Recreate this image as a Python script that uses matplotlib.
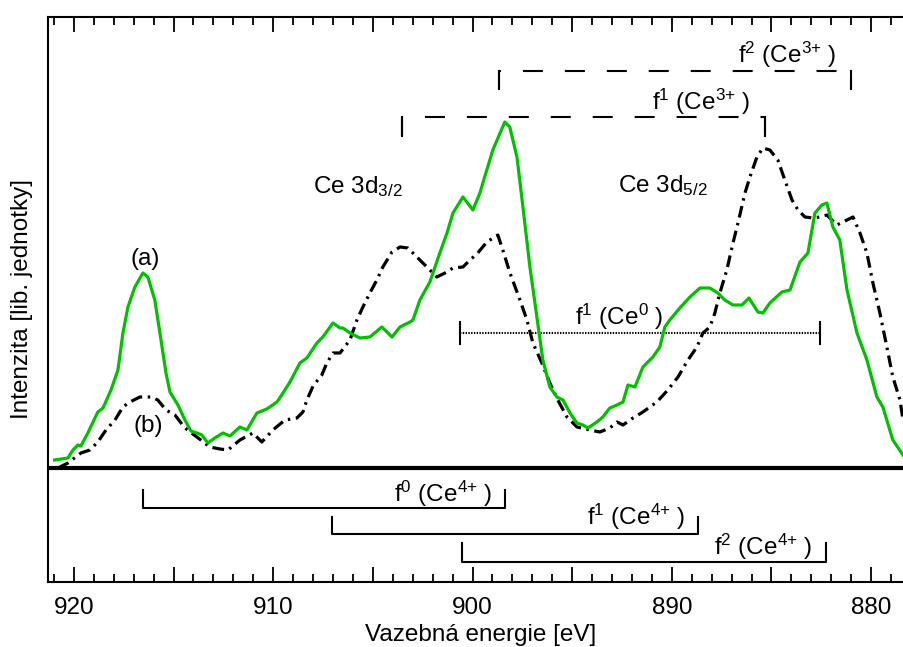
import numpy as np
import matplotlib
matplotlib.use('Agg')
import matplotlib.pyplot as plt
from matplotlib.ticker import MultipleLocator, FuncFormatter

plt.rcParams['font.family'] = ['Liberation Sans', 'DejaVu Sans']
plt.rcParams['mathtext.default'] = 'regular'
plt.rcParams['lines.scale_dashes'] = False

# spectrum (a) - green, binding energy [eV] vs intensity [arb. units]
e_a = [920.97, 920.30, 920.05, 919.80, 919.65, 919.30, 918.80, 918.54, 918.14, 917.79,
       917.54, 917.29, 916.94, 916.54, 916.29, 915.94, 915.63, 915.38, 915.18, 914.78,
       914.43, 914.13, 913.83, 913.58, 913.28, 912.93, 912.52, 912.17, 911.67, 911.32,
       910.82, 910.32, 909.81, 909.51, 909.16, 908.66, 908.31, 907.81, 907.51, 907.00,
       906.65, 906.50, 906.15, 905.65, 905.15, 904.55, 904.04, 903.64, 903.14, 902.99,
       902.64, 902.14, 901.64, 901.28, 900.98, 900.48, 899.98, 899.63, 899.48, 898.98,
       898.38, 898.13, 897.77, 897.47, 897.12, 896.77, 896.47, 896.12, 895.77, 895.46,
       895.11, 894.76, 894.46, 894.21, 893.76, 893.46, 893.11, 892.75, 892.45, 892.20,
       891.85, 891.45, 890.95, 890.60, 890.35, 890.10, 889.60, 889.09, 888.59, 888.09,
       887.69, 887.34, 886.93, 886.48, 886.13, 885.68, 885.43, 885.08, 884.48, 884.07,
       883.57, 883.17, 882.82, 882.47, 882.22, 881.92, 881.57, 881.21, 880.71, 880.21,
       879.71, 879.41, 878.91, 878.40]
i_a = [8, 10, 18, 23, 22, 35, 56, 60, 78, 98,
       135, 161, 181, 195, 191, 168, 128, 95, 76, 63,
       48, 37, 35, 33, 25, 30, 35, 32, 41, 38,
       55, 59, 66, 75, 86, 105, 110, 125, 131, 145,
       140, 140, 135, 130, 131, 141, 131, 141, 146, 148,
       168, 186, 215, 235, 255, 271, 258, 275, 285, 318,
       346, 341, 311, 261, 201, 151, 108, 81, 71, 68,
       55, 45, 43, 40, 46, 51, 60, 63, 66, 83,
       81, 101, 111, 121, 141, 148, 160, 171, 180, 180,
       175, 168, 163, 163, 170, 156, 155, 165, 176, 178,
       206, 215, 255, 263, 265, 241, 228, 178, 135, 108,
       71, 61, 28, 13]

# spectrum (b) - black dash-dot
e_b = [920.80, 920.30, 919.65, 919.20, 918.80, 918.39, 917.94, 917.54, 917.19, 916.69,
       916.14, 915.79, 915.38, 914.93, 914.43, 913.83, 913.18, 912.67, 912.27, 911.67,
       911.02, 910.57, 910.02, 909.41, 908.81, 908.51, 908.31, 908.00, 907.56, 907.31,
       907.00, 906.65, 906.15, 905.80, 905.50, 905.15, 904.80, 904.50, 904.04, 903.64,
       903.24, 902.89, 902.54, 902.14, 901.79, 901.38, 900.98, 900.48, 900.13, 899.78,
       899.28, 898.73, 898.48, 898.12, 897.62, 897.27, 896.97, 896.52, 896.12, 895.72,
       895.26, 894.76, 894.11, 893.61, 893.11, 892.75, 892.45, 891.95, 891.45, 890.75,
       890.20, 889.69, 889.19, 888.74, 888.44, 888.09, 887.84, 887.59, 887.24, 886.93,
       886.68, 886.33, 886.08, 885.73, 885.43, 885.08, 884.68, 884.33, 883.97, 883.67,
       883.32, 882.92, 882.57, 882.22, 881.72, 881.21, 880.91, 880.56, 880.21, 879.91,
       879.56, 879.21, 878.91, 878.55, 878.40]
i_b = [0, 5, 15, 18, 26, 38, 48, 61, 66, 71,
       71, 68, 58, 53, 40, 31, 21, 19, 18, 28,
       35, 26, 38, 48, 50, 56, 68, 82, 93, 105,
       115, 115, 128, 148, 161, 175, 188, 201, 216, 221,
       220, 213, 206, 198, 191, 195, 200, 201, 208, 214,
       226, 233, 218, 195, 168, 148, 125, 105, 85, 68,
       51, 41, 38, 36, 40, 46, 43, 50, 56, 66,
       78, 91, 108, 121, 135, 141, 155, 175, 198, 225,
       245, 275, 291, 311, 320, 318, 308, 288, 268, 258,
       251, 250, 251, 253, 243, 248, 251, 235, 215, 185,
       155, 121, 91, 68, 48]

# satellite brackets: (label, E_left, E_right, level, tick end)
ce3_labels = [r'f$^1$ (Ce$^{3{+}}$ )', r'f$^2$ (Ce$^{3{+}}$ )']
ce3_ranges = [(903.54, 885.33), (898.67, 881.00)]
ce3_levels = [351, 397]
ce3_ticks = [332, 379]

ce4_labels = [r'f$^0$ (Ce$^{4{+}}$ )', r'f$^1$ (Ce$^{4{+}}$ )', r'f$^2$ (Ce$^{4{+}}$ )']
ce4_ranges = [(916.54, 898.37), (907.05, 888.69), (900.53, 882.27)]
ce4_levels = [-40, -66, -94]
ce4_ticks = [-22, -49, -75]

ce0_range = (900.63, 882.57)
ce0_level = 135

fig = plt.figure(figsize=(9.04, 6.47), dpi=100)
ax = fig.add_axes([48/904, 65/647, 856/904, 565/647])

green = '#00c000'
ax.plot(e_a, i_a, color=green, lw=2.3, zorder=3, solid_joinstyle='round')
ax.plot(e_b, i_b, color='black', lw=2.3, linestyle=(0, (8.5, 4, 1.8, 4)), zorder=2)
ax.axhline(0, color='black', lw=3)

# Ce3+ brackets (dashed)
dash = (0, (14.4, 15.8))
for (x1, x2), lv, tk in zip(ce3_ranges, ce3_levels, ce3_ticks):
    ax.plot([x1, x1, x2, x2], [tk, lv, lv, tk], color='black', lw=1.5, linestyle=dash)
    ax.plot([x1, x1], [tk, lv], color='black', lw=1.5)
    ax.plot([x2, x2], [tk, lv], color='black', lw=1.5)

# Ce4+ brackets (solid)
for (x1, x2), lv, tk in zip(ce4_ranges, ce4_levels, ce4_ticks):
    ax.plot([x1, x1, x2, x2], [tk, lv, lv, tk], color='black', lw=1.5)

# Ce0 (dotted)
ax.plot(ce0_range, [ce0_level]*2, color='black', lw=1.5, linestyle=(0, (1, 1)))
for x in ce0_range:
    ax.plot([x, x], [ce0_level - 11, ce0_level + 11], color='black', lw=1.5)

fs = 17.5
ax.text(886.68, 405, ce3_labels[1], fontsize=fs, va='baseline')
ax.text(891.0, 358, ce3_labels[0], fontsize=fs, va='baseline')
ax.text(903.94, -34, ce4_labels[0], fontsize=fs, va='baseline')
ax.text(894.26, -57, ce4_labels[1], fontsize=fs, va='baseline')
ax.text(887.89, -87, ce4_labels[2], fontsize=fs, va='baseline')
ax.text(894.86, 143, r'f$^1$ (Ce$^0$ )', fontsize=fs, va='baseline')
ax.text(908.01, 275, r'Ce 3d$_{3/2}$', fontsize=fs, va='baseline')
ax.text(892.70, 276, r'Ce 3d$_{5/2}$', fontsize=fs, va='baseline')
ax.text(916.44, 209, '(a)', fontsize=fs, ha='center', va='center')
ax.text(916.29, 42, '(b)', fontsize=fs, ha='center', va='center')

ax.set_xlim(921.3, 878.35)
ax.set_ylim(-114, 451)

ax.spines['right'].set_visible(False)
for s in ['left', 'top', 'bottom']:
    ax.spines[s].set_linewidth(1.5)
ax.set_yticks([])
ax.xaxis.set_major_locator(MultipleLocator(5))
ax.xaxis.set_minor_locator(MultipleLocator(1))
ax.xaxis.set_major_formatter(FuncFormatter(lambda v, p: '%d' % v if round(v) % 10 == 0 else ''))
ax.tick_params(axis='x', which='both', direction='in', top=True, bottom=True, labelsize=fs, pad=11)
ax.tick_params(axis='x', which='major', length=11, width=1.3)
ax.tick_params(axis='x', which='minor', length=5.5, width=1.3)

fig.text(481/904, 6/647, 'Vazebná energie [eV]', fontsize=fs, ha='center', va='baseline')
fig.text(22/904, 1 - 299/647, 'Intenzita [lib. jednotky]', fontsize=fs, rotation=90,
         ha='center', va='center')

fig.savefig('out.png', dpi=100)
